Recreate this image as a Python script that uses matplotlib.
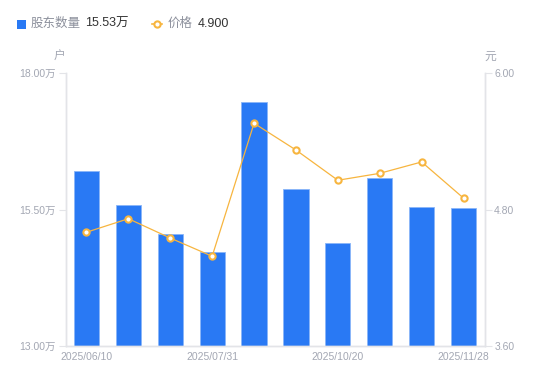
import matplotlib
matplotlib.use("Agg")
import matplotlib.pyplot as plt
from matplotlib.patches import Rectangle
from matplotlib.lines import Line2D

plt.rcParams['font.family'] = ['Liberation Sans', 'Noto Sans CJK SC', 'DejaVu Sans']

# 数据
dates = ['2025/06/10', '2025/06/20', '2025/06/30', '2025/07/31', '2025/08/20',
         '2025/09/30', '2025/10/20', '2025/10/31', '2025/11/10', '2025/11/28']
holders = [16.20, 15.58, 15.05, 14.72, 17.46, 15.87, 14.88, 16.07, 15.55, 15.53]  # 万户
prices = [4.600, 4.719, 4.549, 4.389, 5.558, 5.323, 5.057, 5.118, 5.218, 4.900]
left_ticks = [13.0, 15.5, 18.0]
right_ticks = [3.6, 4.8, 6.0]

blue = '#2979F4'
orange = '#F7B53F'
grey_txt = '#A3A7B3'
grey_line = '#E3E4E8'

fig = plt.figure(figsize=(5.5, 3.81), dpi=100)
ax = fig.add_axes([65.5 / 550, 35 / 381, 419 / 550, 273 / 381])
ax2 = ax.twinx()

x = list(range(len(dates)))
ax.bar(x, holders, width=0.6, color=blue, edgecolor='#8AB6F8', linewidth=0.6)
ax.set_xlim(-0.5, len(dates) - 0.5)
ax.set_ylim(13, 18)
ax.set_yticks(left_ticks)
ax.set_yticklabels(['%.2f万' % v for v in left_ticks])

ax2.plot(x, prices, color=orange, linewidth=0.9, marker='o', markersize=4.5,
         markerfacecolor='white', markeredgecolor=orange, markeredgewidth=1.5)
ax2.set_ylim(3.6, 6.0)
ax2.set_yticks(right_ticks)
ax2.set_yticklabels(['%.2f' % v for v in right_ticks])

ax.set_xticks(x[::3])
ax.set_xticklabels(dates[::3])

for a in (ax, ax2):
    for s in a.spines.values():
        s.set_color(grey_line)
        s.set_linewidth(1.0)
    a.spines['top'].set_visible(False)
    a.tick_params(colors=grey_line, labelcolor=grey_txt, labelsize=7.5, length=5, width=0.8)
ax.tick_params(axis='x', length=0, pad=4)
ax.tick_params(axis='y', pad=2)
ax2.tick_params(axis='y', pad=2)

# 单位
fig.text(59 / 550, 1 - 57 / 381, '户', color=grey_txt, fontsize=8.5, ha='center', va='center')
fig.text(490 / 550, 1 - 57 / 381, '元', color=grey_txt, fontsize=8.5, ha='center', va='center')

# 图例
ly = 1 - 24 / 381
fig.patches.append(Rectangle((17 / 550, 1 - 29 / 381), 9 / 550, 9 / 381, transform=fig.transFigure,
                             facecolor=blue, edgecolor='none'))
fig.text(31 / 550, ly, '股东数量', color='#8C909C', fontsize=9, va='center')
fig.text(85 / 550, ly, '%.2f万' % holders[-1], color='#333333', fontsize=9, va='center')
fig.lines.append(Line2D([152 / 550, 162 / 550], [ly, ly], transform=fig.transFigure, color=orange,
                        linewidth=1.2))
fig.lines.append(Line2D([157 / 550], [ly], transform=fig.transFigure, color=orange, marker='o',
                        markersize=4.5, markerfacecolor='white', markeredgewidth=1.5))
fig.text(168 / 550, ly, '价格', color='#8C909C', fontsize=9, va='center')
fig.text(198 / 550, ly, '%.3f' % prices[-1], color='#333333', fontsize=9, va='center')

plt.savefig('out.png', dpi=100)
